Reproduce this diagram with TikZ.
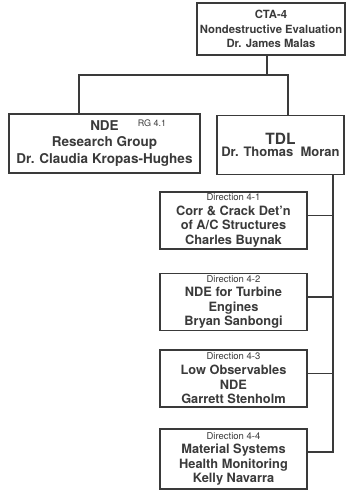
\documentclass[tikz,border=0pt]{standalone}
\usepackage{fontspec}
\setmainfont{TeX Gyre Heros}
\definecolor{ink}{HTML}{3A3A3A}
\tikzset{
  orgbox/.style={draw=ink, line width=1.4pt, inner sep=0pt, align=center, text=ink},
  dirbox/.style={orgbox, minimum width=147pt, minimum height=57pt,
    font=\bfseries\fontsize{12.8}{14.6}\selectfont},
  wire/.style={draw=ink, line width=1.4pt},
}
\newcommand{\dirline}[1]{{\mdseries\fontsize{9.5}{10}\selectfont #1}}
\begin{document}
\begin{tikzpicture}[x=1pt,y=-1pt]
  \useasboundingbox (0,0) rectangle (349,491);
  % top level
  \node[orgbox, minimum width=148pt, minimum height=52pt,
        font=\bfseries\fontsize{11.3}{14.8}\selectfont] (cta) at (271,29)
        {CTA-4\\Nondestructive Evaluation\\Dr. James Malas};
  % second level
  \node[orgbox, minimum width=191pt, minimum height=59pt,
        font=\bfseries\fontsize{13.5}{16.6}\selectfont] (nde) at (104.5,143.5)
        {NDE\\Research Group\\Dr. Claudia Kropas-Hughes};
  \node[text=ink, inner sep=0pt, font=\fontsize{9}{10}\selectfont] (rg) at (152,123) {RG 4.1};
  \node[orgbox, minimum width=127pt, minimum height=59pt, font=\bfseries] (tdl) at (280.5,145)
        {{\fontsize{15.5}{18}\selectfont TDL}\\{\fontsize{13}{15}\selectfont Dr. Thomas\ \ Moran}};
  % directions
  \node[dirbox] (d1) at (233.5,220.5)
        {\dirline{Direction 4-1}\\Corr \& Crack Det'n\\of A/C Structures\\Charles Buynak};
  \node[dirbox] (d2) at (233.5,302)
        {\dirline{Direction 4-2}\\NDE for Turbine\\Engines\\Bryan Sanbongi};
  \node[dirbox] (d3) at (233.5,378.5)
        {\dirline{Direction 4-3}\\Low Observables\\NDE\\Garrett Stenholm};
  \node[dirbox, minimum height=60pt] (d4) at (233.5,459)
        {\dirline{Direction 4-4}\\Material Systems\\Health Monitoring\\Kelly Navarra};
  % connectors
  \coordinate (jt) at (267,75);
  \coordinate (jl) at (79,75);
  \coordinate (jr) at (288,75);
  \coordinate (bus) at (333,0);
  \draw[wire] (jt |- cta.south) -- (jt);
  \draw[wire] (jl |- nde.north) -- (jl) -- (jr) -- (jr |- tdl.north);
  \draw[wire] ([yshift=7pt]d4.east) coordinate (dj) -- (bus |- dj) -- (bus |- tdl.south);
  \foreach \d in {d1,d2,d3}
    \draw[wire] ([yshift=5pt]\d.east) coordinate (dj) -- (bus |- dj);
\end{tikzpicture}
\end{document}
